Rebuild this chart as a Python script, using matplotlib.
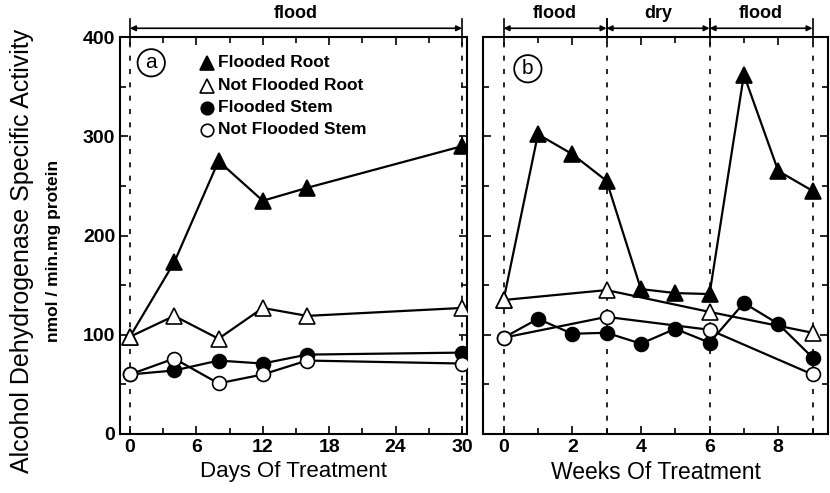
import matplotlib
matplotlib.use("Agg")
import matplotlib.pyplot as plt
from matplotlib.ticker import MultipleLocator

plt.rcParams['font.family'] = ['Liberation Sans', 'DejaVu Sans']

# Panel a: days
days = [0, 4, 8, 12, 16, 30]
a_flooded_root = [98, 173, 275, 235, 248, 290]
a_notflooded_root = [98, 119, 96, 127, 119, 127]
a_flooded_stem = [60, 64, 74, 71, 80, 82]
a_notflooded_stem = [60, 76, 51, 60, 74, 71]

# Panel b: weeks
weeks = [0, 1, 2, 3, 4, 5, 6, 7, 8, 9]
b_flooded_root = [135, 302, 282, 255, 146, 142, 141, 362, 265, 245]
weeks_nf = [0, 3, 6, 9]
b_notflooded_root = [135, 145, 123, 102]
b_flooded_stem = [97, 116, 101, 102, 91, 106, 92, 132, 111, 77]
b_notflooded_stem = [97, 118, 105, 60]

legend_labels = ["Flooded Root", "Not Flooded Root", "Flooded Stem", "Not Flooded Stem"]
a_xticks = [0, 6, 12, 18, 24, 30]
b_xticks = [0, 2, 4, 6, 8]
yticks = [0, 100, 200, 300, 400]

fig = plt.figure(figsize=(8.3, 4.93), dpi=100)
axa = fig.add_axes([120/830, 59/493, 347/830, 397/493])
axb = fig.add_axes([483/830, 59/493, 345/830, 397/493])

lw = 1.6
def series(ax, x, y, marker, filled, ms):
    ax.plot(x, y, color='black', lw=lw, marker=marker, ms=ms,
            mfc='black' if filled else 'white', mec='black', mew=1.2, zorder=3)

for ax in (axa, axb):
    ax.set_ylim(0, 400)
    ax.yaxis.set_major_locator(MultipleLocator(100))
    ax.yaxis.set_minor_locator(MultipleLocator(50))
    ax.tick_params(which='both', direction='in', top=True, right=True, width=1.2)
    ax.tick_params(which='major', length=6)
    ax.tick_params(which='minor', length=4)
    for s in ax.spines.values():
        s.set_linewidth(1.5)

# panel a
axa.set_xlim(-0.9, 30.45)
axa.set_xticks(a_xticks)
axa.xaxis.set_minor_locator(MultipleLocator(3))
axa.set_yticks(yticks)
for xv in (0, 30):
    axa.axvline(xv, color='black', ls=(0, (3, 5)), lw=1.2, zorder=1)
series(axa, days, a_flooded_root, '^', True, 11)
series(axa, days, a_notflooded_root, '^', False, 11)
series(axa, days, a_flooded_stem, 'o', True, 10)
series(axa, days, a_notflooded_stem, 'o', False, 10)
axa.set_xlabel("Days Of Treatment", fontsize=16, labelpad=4)
for lab in axa.get_xticklabels() + axa.get_yticklabels():
    lab.set_fontsize(14)
    lab.set_fontweight('bold')

# legend as text rows
leg_marks = [('^', True), ('^', False), ('o', True), ('o', False)]
ys = [0.935, 0.877, 0.822, 0.767]
for (m, f), yy, lab in zip(leg_marks, ys, legend_labels):
    axa.plot([0.25], [yy], transform=axa.transAxes, marker=m, ms=10 if m == '^' else 9,
             mfc='black' if f else 'white', mec='black', mew=1.2, color='black',
             clip_on=False, zorder=4)
    axa.text(0.283, yy, lab, transform=axa.transAxes, fontsize=12.5, va='center',
             ha='left', fontweight='bold')
axa.text(0.09, 0.935, "a", transform=axa.transAxes, fontsize=15, ha='center', va='center',
         bbox=dict(boxstyle='circle,pad=0.2', fc='white', ec='black', lw=1.3))

# panel b
axb.set_xlim(-0.6, 9.45)
axb.set_xticks(b_xticks)
axb.xaxis.set_minor_locator(MultipleLocator(1))
axb.set_yticks(yticks)
axb.set_yticklabels([])
for xv in (0, 3, 6, 9):
    axb.axvline(xv, color='black', ls=(0, (3, 5)), lw=1.2, zorder=1)
series(axb, weeks, b_flooded_root, '^', True, 11)
series(axb, weeks_nf, b_notflooded_root, '^', False, 11)
series(axb, weeks, b_flooded_stem, 'o', True, 10)
series(axb, weeks_nf, b_notflooded_stem, 'o', False, 10)
axb.set_xlabel("Weeks Of Treatment", fontsize=16.5, labelpad=4)
for lab in axb.get_xticklabels():
    lab.set_fontsize(14)
    lab.set_fontweight('bold')
axb.text(0.13, 0.92, "b", transform=axb.transAxes, fontsize=15, ha='center', va='center',
         bbox=dict(boxstyle='circle,pad=0.2', fc='white', ec='black', lw=1.3))

# top annotations
def bracket(ax, x0, x1, label, yline=1.022, ytext=1.06):
    tr = ax.get_xaxis_transform()
    ax.annotate('', xy=(x1, yline), xytext=(x0, yline), xycoords=tr, textcoords=tr,
                arrowprops=dict(arrowstyle='<|-|>', color='black', lw=1.2,
                                mutation_scale=8, shrinkA=0, shrinkB=0),
                annotation_clip=False)
    for xv in (x0, x1):
        ax.plot([xv, xv], [1.0, 1.045], transform=tr, color='black', lw=1.2, clip_on=False)
    ax.text((x0 + x1) / 2, ytext, label, transform=tr, ha='center', va='center',
            fontsize=13, fontweight='bold')

bracket(axa, 0, 30, "flood")
bracket(axb, 0, 3, "flood")
bracket(axb, 3, 6, "dry")
bracket(axb, 6, 9, "flood")

fig.text(0.027, 0.49, "Alcohol Dehydrogenase Specific Activity", rotation=90,
         ha='center', va='center', fontsize=18)
fig.text(0.064, 0.49, "nmol / min.mg protein", rotation=90, ha='center', va='center',
         fontsize=12.5, fontweight='bold')

fig.savefig("out.png", dpi=100)
